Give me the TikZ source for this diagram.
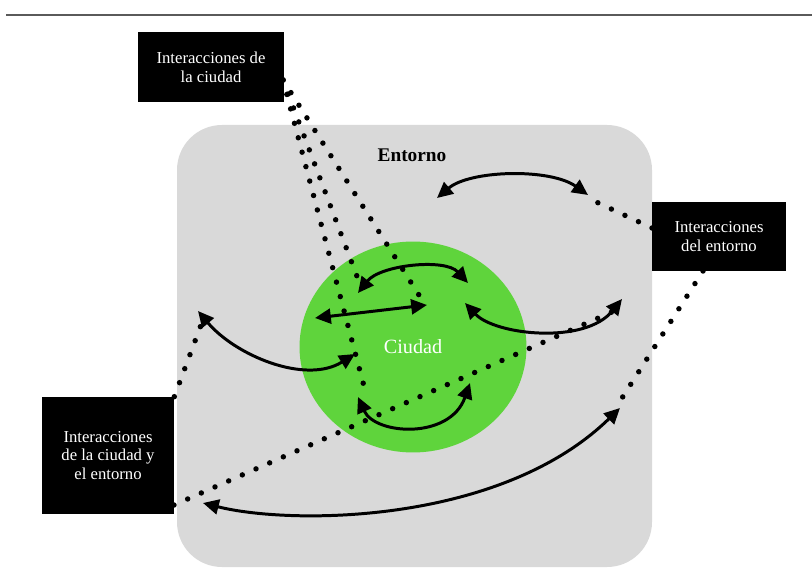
\documentclass[tikz,border=0pt]{standalone}
\usepackage{fontspec}
\setmainfont{Liberation Serif}
\usetikzlibrary{arrows.meta,shapes.geometric}
\definecolor{entornogris}{RGB}{217,217,217}
\definecolor{ciudadverde}{RGB}{95,212,60}
\definecolor{lineagris}{RGB}{90,90,90}

\begin{document}
\begin{tikzpicture}[x=0.02cm,y=-0.02cm,
  caja/.style={fill=black,text=white,align=center,font=\fontsize{9.5}{10.6}\selectfont,inner sep=0pt},
  flecha/.style={line width=1.7pt,{Triangle[length=9pt,width=8.5pt]}-{Triangle[length=9pt,width=8.5pt]}},
  puntos/.style={line width=3.1pt,line cap=round,dash pattern=on 0pt off 8.5pt}]
\useasboundingbox (0,0) rectangle (812,581);
\draw[lineagris,line width=1.7pt] (6,15) -- (812,15);
\fill[entornogris,rounded corners=0.9cm] (177,125) rectangle (652,567);
\node[font=\bfseries\fontsize{11}{13}\selectfont] (entorno) at (412,155) {Entorno};
\node[ellipse,fill=ciudadverde,minimum width=4.54cm,minimum height=4.22cm,text=white,font=\fontsize{11.5}{13}\selectfont] (ciudad) at (413,347) {Ciudad};

\node[caja,minimum width=2.92cm,minimum height=1.4cm] (ic) at (211,67) {Interacciones de\\la ciudad};
\node[caja,minimum width=2.68cm,minimum height=1.38cm] (ie) at (719,236.5) {Interacciones\\del entorno};
\node[caja,minimum width=2.64cm,minimum height=2.34cm] (ice) at (108,455.5) {Interacciones\\de la ciudad y\\el entorno};

\coordinate (ico) at (283,80);
\coordinate (ieo) at (652,228);
\coordinate (ieu) at (703,271);
\coordinate (iceo) at (174,505);
\coordinate (da) at (365,390);
\coordinate (db) at (361,287);
\coordinate (dc) at (424,303);
\coordinate (dd) at (201,325);
\coordinate (de) at (612,312);
\coordinate (df) at (592,200);
\coordinate (dg) at (622,398);

\coordinate (a1) at (437,198); \coordinate (b1) at (588,195);
\coordinate (a2) at (358,293); \coordinate (b2) at (468,283);
\coordinate (a3) at (315,318); \coordinate (b3) at (427,305);
\coordinate (a4) at (465,303); \coordinate (b4) at (622,299);
\coordinate (a5) at (198,311); \coordinate (b5) at (355,354);
\coordinate (a6) at (358,397); \coordinate (b6) at (470,383);
\coordinate (a7) at (203,503); \coordinate (b7) at (620,408);

\draw[puntos] (ico) -- (da);
\draw[puntos] (ico) -- (db);
\draw[puntos] (ico) -- (dc);
\draw[puntos] (ice.north east) -- (dd);
\draw[puntos] (iceo) -- (de);
\draw[puntos] (ieo) -- (df);
\draw[puntos] (ieu) -- (dg);

\draw[flecha] (a1) .. controls (470,170) and (550,168) .. (b1);
\draw[flecha] (a2) .. controls (380,265) and (445,258) .. (b2);
\draw[flecha] (a3) -- (b3);
\draw[flecha] (a4) .. controls (495,335) and (585,345) .. (b4);
\draw[flecha] (a5) .. controls (235,355) and (305,385) .. (b5);
\draw[flecha] (a6) .. controls (375,435) and (450,440) .. (b6);
\draw[flecha] (a7) .. controls (290,525) and (500,525) .. (b7);
\end{tikzpicture}
\end{document}
